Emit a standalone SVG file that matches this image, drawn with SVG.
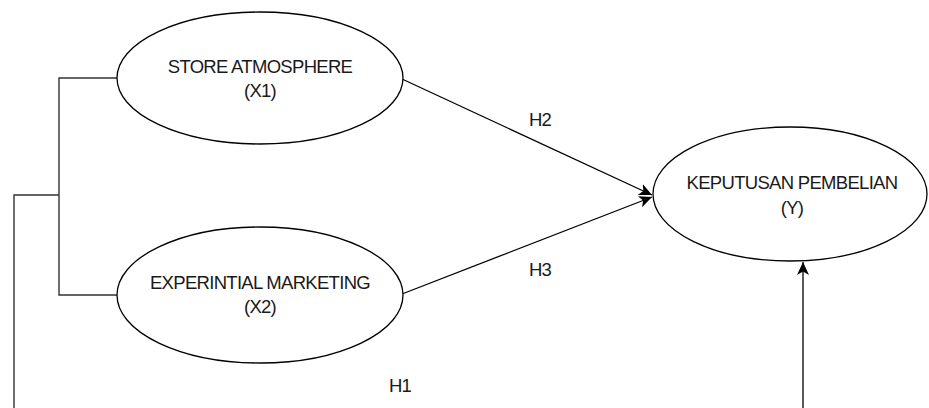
<svg xmlns="http://www.w3.org/2000/svg" width="929" height="408" viewBox="0 0 929 408">
<style>
.node ellipse{fill:#fff;stroke:#000;stroke-width:1.3}
.lbl{font-family:"Liberation Sans",Arial,sans-serif;font-size:18.5px;letter-spacing:-0.7px;fill:#1a1a1a;text-anchor:middle}
.edge{fill:none;stroke:#000;stroke-width:1.3}
.bracket{fill:none;stroke:#333;stroke-width:1.4}
</style>
<defs>
<marker id="arr" markerUnits="userSpaceOnUse" markerWidth="14" markerHeight="12" viewBox="0 0 14 12" refX="13" refY="6" orient="auto">
<path d="M0,0 L13,6 L0,12 L3.5,6 Z" fill="#000"/>
</marker>
</defs>
<rect width="929" height="408" fill="#fff"/>
<g id="connectors">
<polyline class="bracket" points="117,78 59,78 59,295 117,295"/>
<polyline class="bracket" points="59,195 14,195 14,408"/>
<line class="edge" x1="402" y1="79" x2="652" y2="195" marker-end="url(#arr)"/>
<line class="edge" x1="402" y1="294" x2="652" y2="197" marker-end="url(#arr)"/>
<line class="edge" x1="803" y1="408" x2="803" y2="262" marker-end="url(#arr)"/>
<text class="lbl" x="540" y="126">H2</text>
<text class="lbl" x="540" y="276">H3</text>
<text class="lbl" x="400" y="392">H1</text>
</g>
<g id="x1" class="node">
<ellipse cx="260" cy="78" rx="143" ry="66"/>
<text class="lbl" x="260" y="73">STORE ATMOSPHERE</text>
<text class="lbl" x="260" y="97">(X1)</text>
</g>
<g id="x2" class="node">
<ellipse cx="260" cy="295" rx="143" ry="68"/>
<text class="lbl" x="260" y="289">EXPERINTIAL MARKETING</text>
<text class="lbl" x="260" y="313">(X2)</text>
</g>
<g id="y" class="node">
<ellipse cx="790" cy="194" rx="137" ry="67"/>
<text class="lbl" x="792" y="189">KEPUTUSAN PEMBELIAN</text>
<text class="lbl" x="792" y="214">(Y)</text>
</g>
</svg>
